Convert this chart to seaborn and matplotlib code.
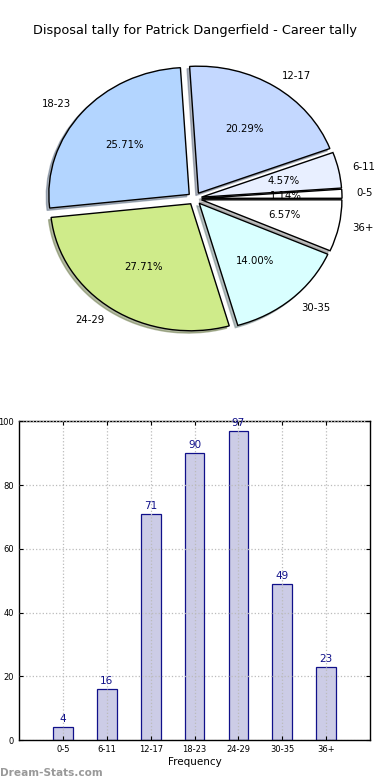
import matplotlib
matplotlib.use("Agg")
import matplotlib.pyplot as plt
import seaborn as sns
import pandas as pd

# disposal tally buckets
categories = ["0-5", "6-11", "12-17", "18-23", "24-29", "30-35", "36+"]
counts = [4, 16, 71, 90, 97, 49, 23]
pie_colors = ["#ffffff", "#e8efff", "#c4d8ff", "#b3d5ff", "#cfeb8a", "#d9ffff", "#ffffff"]

df = pd.DataFrame({"bucket": categories, "count": counts})

fig = plt.figure(figsize=(3.9, 7.8), dpi=100)

# --- pie ---
ax1 = fig.add_axes([0.049, 0.542, 0.9, 0.407])
wedges, texts, autotexts = ax1.pie(
    df["count"], labels=df["bucket"], colors=pie_colors,
    explode=[0.05] * len(categories), autopct="%1.2f%%",
    shadow={"ox": -0.013, "oy": -0.013, "shade": 0.5},
    startangle=0, wedgeprops={"edgecolor": "black", "linewidth": 1},
    textprops={"fontsize": 7.3},
)
ax1.set_aspect("auto")
ax1.set_title("Disposal tally for Patrick Dangerfield - Career tally", fontsize=9.3, pad=4.5)

# --- bars ---
ax2 = fig.add_axes([0.049, 0.051, 0.9, 0.409])
sns.barplot(data=df, x="bucket", y="count", ax=ax2, color="#ccccE6", saturation=1,
            edgecolor="#10108a", linewidth=0.9, width=0.45)
for i, v in enumerate(counts):
    ax2.text(i, v + 1, str(v), ha="center", va="bottom", color="#10108a", fontsize=7.5)

ax2.set_xlim(-1, 7)
ax2.set_ylim(0, 100)
ax2.set_yticks([0, 20, 40, 60, 80, 100])
ax2.set_axisbelow(False)
ax2.grid(True, linestyle=":", color="#bbbbbb", linewidth=0.9)
ax2.tick_params(direction="in", top=True, right=True, labelsize=6, length=3)
ax2.set_xlabel("Frequency", fontsize=7.5, labelpad=2)
ax2.set_ylabel("")
for s in ax2.spines.values():
    s.set_linewidth(1)

fig.text(0.0, 0.003, "Dream-Stats.com", color="#999999", fontsize=7.6, fontweight="bold",
         ha="left", va="bottom")

fig.savefig("out.png", dpi=100)
